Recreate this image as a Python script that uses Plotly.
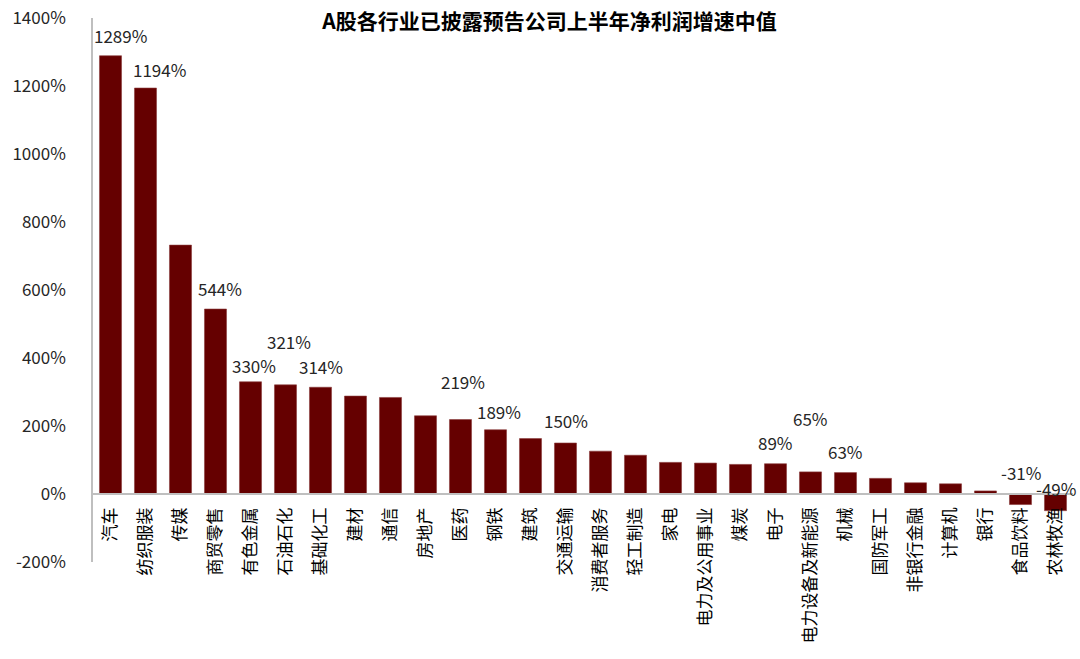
import plotly.graph_objects as go

categories = ["汽车", "纺织服装", "传媒", "商贸零售", "有色金属", "石油石化", "基础化工", "建材", "通信",
              "房地产", "医药", "钢铁", "建筑", "交通运输", "消费者服务", "轻工制造", "家电", "电力及公用事业",
              "煤炭", "电子", "电力设备及新能源", "机械", "国防军工", "非银行金融", "计算机", "银行",
              "食品饮料", "农林牧渔"]
values = [1289, 1194, 732, 544, 330, 321, 314, 288, 284,
          230, 219, 189, 163, 150, 126, 114, 93, 91,
          87, 89, 65, 63, 46, 33, 30, 9,
          -31, -49]
labeled = ["汽车", "纺织服装", "商贸零售", "有色金属", "石油石化", "基础化工", "医药", "钢铁",
           "交通运输", "电子", "电力设备及新能源", "机械", "食品饮料", "农林牧渔"]
y_ticks = [-200, 0, 200, 400, 600, 800, 1000, 1200, 1400]
title_text = "A股各行业已披露预告公司上半年净利润增速中值"

# label placement offsets (pixels): (xshift, yshift above bar top / zero line)
label_offsets = {"汽车": (10, 20), "纺织服装": (14, 19), "商贸零售": (4, 21), "有色金属": (3, 16),
                 "石油石化": (3, 43), "基础化工": (0, 21), "医药": (2, 38), "钢铁": (3, 18),
                 "交通运输": (0, 23), "电子": (0, 21), "电力设备及新能源": (0, 53), "机械": (0, 21),
                 "食品饮料": (0, 22), "农林牧渔": (0, 6)}

FONT = "Noto Sans CJK SC"
ymin, ymax = y_ticks[0], y_ticks[-1]

y_tick_text = [f"{t}%" for t in y_ticks]

fig = go.Figure()
fig.add_trace(go.Bar(
    x=categories, y=values, width=0.63,
    marker=dict(color="#650000", line=dict(color="#8a3a3a", width=0.6)),
    hoverinfo="x+y",
))

for c, v in zip(categories, values):
    if c in labeled:
        xs, ys = label_offsets[c]
        fig.add_annotation(x=c, y=max(v, 0), text=f"{v}%", showarrow=False,
                           xshift=xs, yshift=ys, yanchor="middle", xanchor="center",
                           font=dict(family=FONT, size=17, color="#262626"))

fig.update_layout(
    width=1080, height=659,
    margin=dict(l=93, r=7, t=18, b=97),
    paper_bgcolor="white", plot_bgcolor="white",
    showlegend=False,
    title=dict(text=f"<b>{title_text}</b>", x=549.5 / 1080, xref="container", xanchor="center",
               y=1 - 22 / 659, yref="container", yanchor="middle",
               font=dict(family=FONT, size=21, color="#000000")),
    xaxis=dict(
        tickmode="array", tickvals=categories,
        tickangle=-90, showline=True, linecolor="#bfbfbf", linewidth=1.5,
        ticks="", showgrid=False, zeroline=False,
        anchor="free", position=(0 - ymin) / (ymax - ymin),
        ticklabelstandoff=6,
        tickfont=dict(family=FONT, size=17, color="#000000"),
        automargin=False, range=[-0.5, len(categories) - 0.5],
    ),
    yaxis=dict(
        range=[ymin, ymax], tickmode="array", tickvals=y_ticks, ticktext=y_tick_text,
        showline=True, linecolor="#bfbfbf", linewidth=1.5,
        showgrid=False, zeroline=False, ticks="",
        ticklabelstandoff=22,
        tickfont=dict(family=FONT, size=17, color="#262626"),
        automargin=False,
    ),
)

fig.write_html("out.html", config={"displayModeBar": False},
               post_script="document.body.style.margin='0px';")
